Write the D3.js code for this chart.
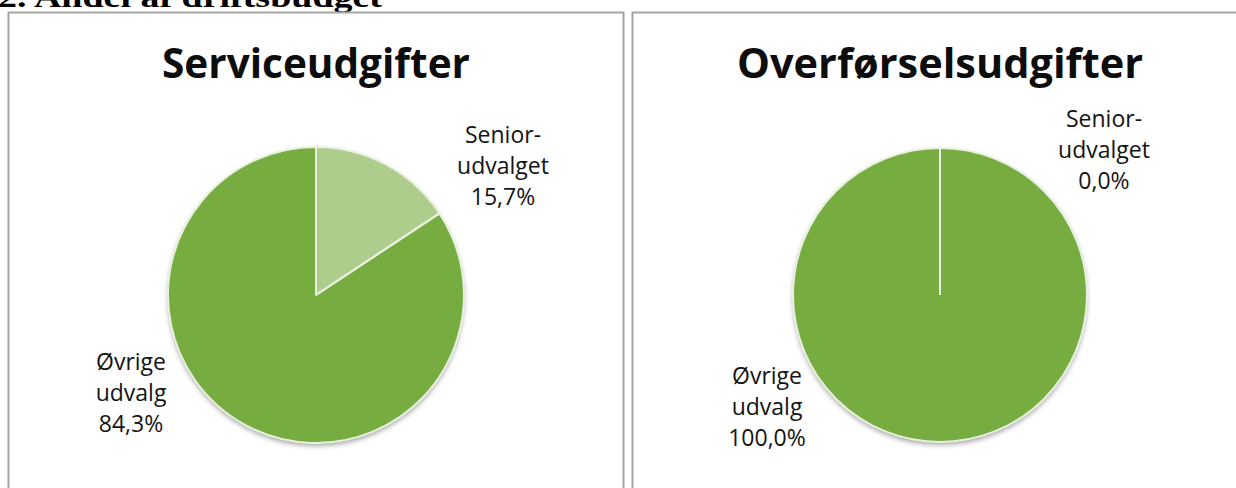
<!DOCTYPE html>
<html><head><meta charset="utf-8">
<script src="https://cdn.jsdelivr.net/npm/d3@7"></script>
<style>html,body{margin:0;padding:0;background:#fff;overflow:hidden}</style>
</head><body>
<svg id="c" width="1236" height="488"></svg>
<script>
const heading = "2. Andel af driftsbudget";
const chartTitles = ["Serviceudgifter", "Overførselsudgifter"];
const categories = ["Senior-udvalget", "Øvrige udvalg"];
const labelLines = [["Senior-", "udvalget"], ["Øvrige", "udvalg"]];
const serviceValues = [15.7, 84.3];
const transferValues = [0.0, 100.0];
const sliceColors = ["#aecd8c", "#77ac41"];

const svg = d3.select("#c");
const defs = svg.append("defs");
const f = defs.append("filter").attr("id","sh").attr("x","-20%").attr("y","-20%").attr("width","140%").attr("height","140%");
f.append("feDropShadow").attr("dx",0).attr("dy",3).attr("stdDeviation",2.5).attr("flood-color","#000").attr("flood-opacity",0.35);

svg.append("text").attr("x",-2).attr("y",7)
  .attr("font-family","'Liberation Serif', serif").attr("font-weight","bold")
  .attr("font-size",30).attr("textLength",384).attr("lengthAdjust","spacingAndGlyphs")
  .attr("fill","#000").text(heading);

const panels = [
  {x:8.5, w:615, cx:316, cy:295, r:148, values:serviceValues, title:chartTitles[0], tw:308, tx:316,
   labels:[{x:503, y:[143,174,205]}, {x:131, y:[370,401,432]}]},
  {x:632.5, w:620, cx:940, cy:295, r:147, values:transferValues, title:chartTitles[1], tw:406, tx:940,
   labels:[{x:1104, y:[127,158,189]}, {x:767, y:[384,415,446]}]}
];

const fmt = v => d3.format(".1f")(v).replace(".", ",") + "%";
const pie = d3.pie().sort(null).value(d => d);

panels.forEach(p => {
  const g = svg.append("g");
  g.append("rect").attr("x",p.x).attr("y",12.5).attr("width",p.w).attr("height",500)
    .attr("fill","#fff").attr("stroke","#a6a6a6").attr("stroke-width",2);
  g.append("text").attr("x",p.tx).attr("y",78).attr("text-anchor","middle")
    .attr("font-family","'Open Sans', sans-serif").attr("font-weight","bold").attr("font-size",41)
    .attr("textLength",p.tw).attr("lengthAdjust","spacingAndGlyphs")
    .attr("fill","#0d0d0d").text(p.title);
  const arc = d3.arc().innerRadius(0).outerRadius(p.r);
  const arcs = pie(p.values);
  const pg = g.append("g").attr("transform",`translate(${p.cx},${p.cy})`);
  pg.append("circle").attr("r",p.r).attr("fill","#77ac41").attr("filter","url(#sh)");
  pg.selectAll("path").data(arcs).join("path")
    .attr("d",arc).attr("fill",(d,i)=>sliceColors[i])
    .attr("stroke","#e8f0df").attr("stroke-width",2).attr("stroke-linejoin","round");
  pg.selectAll("line.b").data(arcs).join("line").attr("class","b")
    .attr("x1",0).attr("y1",0)
    .attr("x2",d=>p.r*Math.sin(d.startAngle)).attr("y2",d=>-p.r*Math.cos(d.startAngle))
    .attr("stroke","#e8f0df").attr("stroke-width",2);
  p.labels.forEach((L,i) => {
    const lines = labelLines[i].concat([fmt(p.values[i])]);
    const t = g.append("text").attr("text-anchor","middle")
      .attr("font-family","'Open Sans', sans-serif").attr("font-size",23).attr("fill","#141414");
    lines.forEach((s,j) => t.append("tspan").attr("x",L.x).attr("y",L.y[j]).text(s));
  });
});
</script>
</body></html>
